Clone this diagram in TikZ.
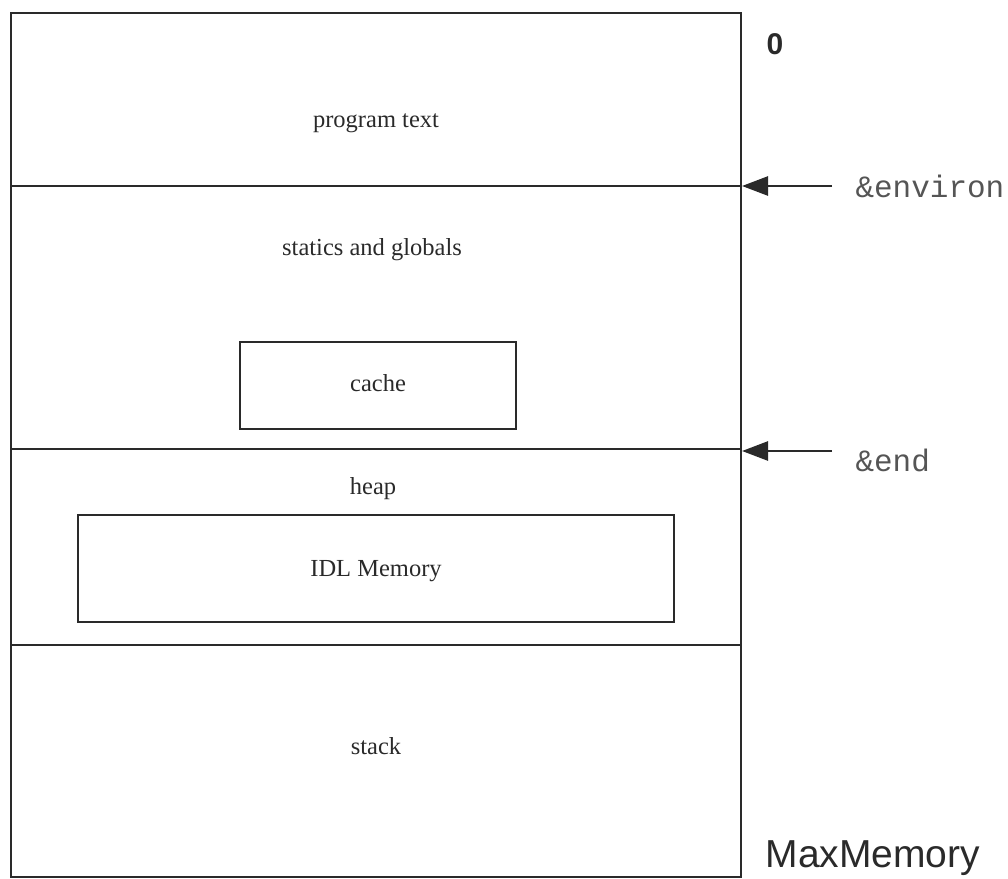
\documentclass[tikz,border=0pt]{standalone}
\usepackage{fontspec}
\setmainfont{Liberation Serif}
\newfontfamily\monofont{Liberation Mono}
\newfontfamily\labelfont{Liberation Sans}
\usetikzlibrary{arrows.meta}
\definecolor{ink}{HTML}{2A2A2A}
\definecolor{softink}{HTML}{555555}
\tikzset{
  wall/.style={draw=ink,line width=2.8pt},
  inbox/.style={draw=ink,line width=2.8pt,inner sep=0pt},
  lbl/.style={font=\fontsize{24.5}{28}\selectfont,text=ink},
  ptr/.style={font=\monofont\fontsize{31}{34}\selectfont,text=softink,anchor=west},
  addr/.style={font=\labelfont\fontsize{39}{42}\selectfont,text=ink},
  arr/.style={draw=ink,line width=2.6pt,-{Triangle[length=26pt,width=19pt]}}
}
\begin{document}
\begin{tikzpicture}[x=1pt,y=-1pt]
\useasboundingbox (0,0) rectangle (1008,878);
% outer frame and dividers
\coordinate (tl) at (11,13);
\coordinate (br) at (741,877);
\draw[wall] (tl) rectangle (br);
\coordinate (d1l) at (11,186); \coordinate (d1r) at (741,186);
\coordinate (d2l) at (11,449); \coordinate (d2r) at (741,449);
\coordinate (d3l) at (11,645); \coordinate (d3r) at (741,645);
\draw[wall] (d1l) -- (d1r);
\draw[wall] (d2l) -- (d2r);
\draw[wall] (d3l) -- (d3r);
% inner boxes
\node[inbox,minimum width=276pt,minimum height=87pt] (cache) at (378,385.5) {};
\node[lbl] (cachet) at (378,383) {cache};
\node[inbox,minimum width=596pt,minimum height=107pt] (idl) at (376,568.5) {};
\node[lbl] (idlt) at (376,571) {IDL Memory};
% section labels
\node[lbl] (prog) at (376,123) {program text};
\node[lbl] (stat) at (372,250) {statics and globals};
\node[lbl] (heap) at (373,489) {heap};
\node[lbl] (stack) at (376,746) {stack};
% address labels
\node[addr,font=\labelfont\bfseries\fontsize{30}{34}\selectfont] (zero) at (775,44) {0};
\node[addr,anchor=west] (maxm) at (762,858) {MaxMemory};
% pointers
\node[ptr] (env) at (852,186) {\&environ};
\node[ptr] (endp) at (852,460) {\&end};
\coordinate (envs) at (832,186);
\coordinate (ends) at (832,451);
\coordinate (envt) at (742,186);
\coordinate (endt) at (742,451);
\draw[arr] (envs) -- (envt);
\draw[arr] (ends) -- (endt);
\end{tikzpicture}
\end{document}
